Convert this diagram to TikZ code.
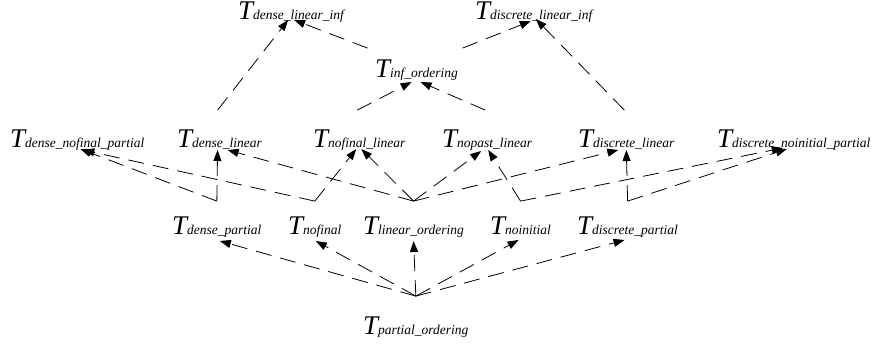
\documentclass[tikz,border=0pt]{standalone}
\usepackage{fontspec}
\setmainfont{Liberation Serif}
\usetikzlibrary{arrows.meta}
\newcommand{\Tlab}[1]{{\fontsize{27}{27}\selectfont\itshape T}{\fontsize{13.5}{14}\selectfont\itshape #1}}
\begin{document}
\begin{tikzpicture}[x=1pt,y=1pt,
  lbl/.style={inner sep=0pt, anchor=base west},
  edge/.style={draw, line width=0.8pt, dash pattern=on 16pt off 9pt,
    -{Triangle[length=11pt,width=8pt]}}]
\useasboundingbox (0,0) rectangle (878,345);
% top row
\node[lbl] (dli) at (238,325) {\Tlab{dense\_linear\_inf}};
\node[lbl] (disli) at (475,325) {\Tlab{discrete\_linear\_inf}};
\node[lbl] (inf) at (375,267) {\Tlab{inf\_ordering}};
% third row
\node[lbl] (dnp) at (10,197) {\Tlab{dense\_nofinal\_partial}};
\node[lbl] (dl) at (177,197) {\Tlab{dense\_linear}};
\node[lbl] (nfl) at (313,197) {\Tlab{nofinal\_linear}};
\node[lbl] (npl) at (442,197) {\Tlab{nopast\_linear}};
\node[lbl] (disl) at (578,197) {\Tlab{discrete\_linear}};
\node[lbl] (dnip) at (717,197) {\Tlab{discrete\_noinitial\_partial}};
% second row
\node[lbl] (dp) at (172,110) {\Tlab{dense\_partial}};
\node[lbl] (nf) at (288,110) {\Tlab{nofinal}};
\node[lbl] (lo) at (363,110) {\Tlab{linear\_ordering}};
\node[lbl] (ni) at (490,110) {\Tlab{noinitial}};
\node[lbl] (dsp) at (577,110) {\Tlab{discrete\_partial}};
% bottom
\node[lbl] (po) at (363,10) {\Tlab{partial\_ordering}};

% junction points
\coordinate (poj) at ([yshift=21pt]po.north);
\coordinate (dpj) at ([yshift=16pt]dp.north);
\coordinate (nfj) at ([yshift=16pt]nf.north);
\coordinate (loj) at ([yshift=16pt]lo.north);
\coordinate (nij) at ([yshift=16pt]ni.north);
\coordinate (dspj) at ([yshift=16pt]dsp.north);

% partial_ordering -> second row
\draw[edge] (poj) -- ([xshift=3pt,yshift=-6pt]dp.base);
\draw[edge] (poj) -- ([xshift=1pt,yshift=-6pt]nf.base);
\draw[edge] (poj) -- ([yshift=-6pt]lo.base);
\draw[edge] (poj) -- ([xshift=-2pt,yshift=-5pt]ni.base);
\draw[edge] (poj) -- ([xshift=-3pt,yshift=-5pt]dsp.base);

% second row -> third row
\draw[edge] (dpj) -- ([xshift=-2pt,yshift=-2pt]dl.base);
\draw[edge] (dpj) -- ([xshift=3pt,yshift=-1pt]dnp.base);
\draw[edge] (nfj) -- ([xshift=6pt,yshift=-2pt]dnp.base);
\draw[edge] (nfj) -- ([xshift=-3pt,yshift=-1pt]nfl.base);
\draw[edge] (loj) -- ([xshift=8pt,yshift=-2pt]dl.base);
\draw[edge] (loj) -- ([xshift=2pt,yshift=-1pt]nfl.base);
\draw[edge] (loj) -- ([xshift=-6pt,yshift=-3pt]npl.base);
\draw[edge] (loj) -- ([xshift=-8pt,yshift=-2pt]disl.base);
\draw[edge] (nij) -- ([xshift=1pt,yshift=-2pt]npl.base);
\draw[edge] (nij) -- ([xshift=-11pt,yshift=0pt]dnip.base);
\draw[edge] (dspj) -- ([yshift=-2pt]disl.base);
\draw[edge] (dspj) -- ([xshift=-7pt,yshift=-1pt]dnip.base);

% third row -> top
\draw[edge] ([xshift=-2pt,yshift=20pt]dl.north) -- ([xshift=-3pt]dli.base);
\draw[edge] ([xshift=-2pt,yshift=20pt]nfl.north) -- ([xshift=-5pt,yshift=-4pt]inf.base);
\draw[edge] ([xshift=-2pt,yshift=20pt]npl.north) -- ([xshift=4pt,yshift=-4pt]inf.base);
\draw[edge] ([xshift=-2pt,yshift=20pt]disl.north) -- ([xshift=2pt,yshift=1pt]disli.base);
\draw[edge] ([xshift=-49pt,yshift=12pt]inf.north) -- ([xshift=3pt]dli.base);
\draw[edge] ([xshift=46pt,yshift=12pt]inf.north) -- ([xshift=-3pt,yshift=-1pt]disli.base);
\end{tikzpicture}
\end{document}
